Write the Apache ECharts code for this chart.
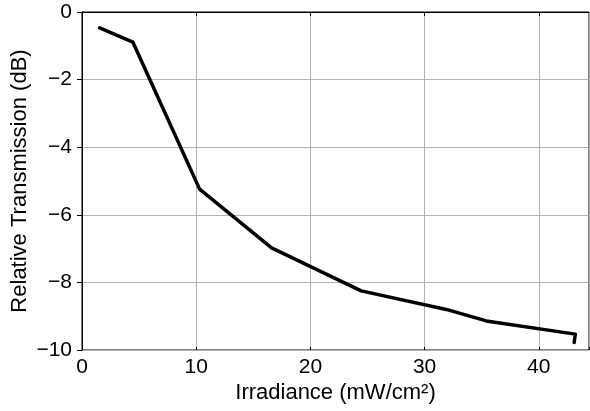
<!DOCTYPE html>
<html><head><meta charset="utf-8">
<script src="https://cdn.jsdelivr.net/npm/echarts@6/dist/echarts.min.js"></script>
<style>html,body{margin:0;padding:0;background:#fff}#c{width:590px;height:411px}</style>
</head><body><div id="c"></div>
<script>
const irradiance = [1.55, 4.45, 10.3, 16.6, 24.45, 31.9, 35.4, 43.2, 43.1];
const transmission = [-0.47, -0.89, -5.24, -6.98, -8.25, -8.8, -9.14, -9.53, -9.78];
const xTicks = [0, 10, 20, 30, 40];
const yTicks = [0, -2, -4, -6, -8, -10];
const FONT = 'Liberation Sans, Arial, sans-serif';
const fmt = v => String(v).replace('-', '\u2212');
const chart = echarts.init(document.getElementById('c'), null, {renderer: 'canvas'});
const xBase = {type: 'value', min: 0, max: 44.4, interval: 10};
const yBase = {type: 'value', min: -10, max: 0, interval: 2};
chart.setOption({
  animation: false,
  grid: {left: 82, right: 1, top: 12, bottom: 61, show: true, borderColor: '#000', borderWidth: 1,
    containLabel: false, outerBoundsMode: 'none'},
  xAxis: [Object.assign({}, xBase, {
    name: 'Irradiance (mW/cm²)', nameLocation: 'middle', nameGap: 32, nameMoveOverlap: false,
    nameTextStyle: {fontFamily: FONT, fontSize: 22, color: '#000'},
    axisLine: {show: true, lineStyle: {color: '#000', width: 1}},
    axisTick: {show: true, length: 4, inside: false, lineStyle: {color: '#000'}},
    axisLabel: {fontFamily: FONT, fontSize: 21, color: '#000', margin: 7, showMaxLabel: false,
      formatter: v => xTicks.includes(v) ? fmt(v) : ''},
    splitLine: {show: true, lineStyle: {color: '#b0b0b0', width: 1}}
  }), Object.assign({}, xBase, {
    position: 'bottom',
    axisLine: {show: false}, axisLabel: {show: false}, splitLine: {show: false},
    axisTick: {show: true, length: 3, inside: true, lineStyle: {color: '#000'}}
  })],
  yAxis: [Object.assign({}, yBase, {
    name: 'Relative Transmission (dB)', nameLocation: 'middle', nameGap: 51, nameMoveOverlap: false,
    nameTextStyle: {fontFamily: FONT, fontSize: 22, color: '#000'},
    axisLine: {show: true, lineStyle: {color: '#000', width: 1}},
    axisTick: {show: true, length: 5, inside: false, lineStyle: {color: '#000'}},
    axisLabel: {fontFamily: FONT, fontSize: 21, color: '#000', margin: 10,
      formatter: v => yTicks.includes(v) ? fmt(v) : ''},
    splitLine: {show: true, lineStyle: {color: '#b0b0b0', width: 1}}
  })],
  series: [{
    type: 'line',
    data: irradiance.map((x, i) => [x, transmission[i]]),
    showSymbol: false, symbol: 'none',
    lineStyle: {color: '#000', width: 3.5, join: 'round', cap: 'round'},
    clip: false
  }]
});
</script></body></html>
